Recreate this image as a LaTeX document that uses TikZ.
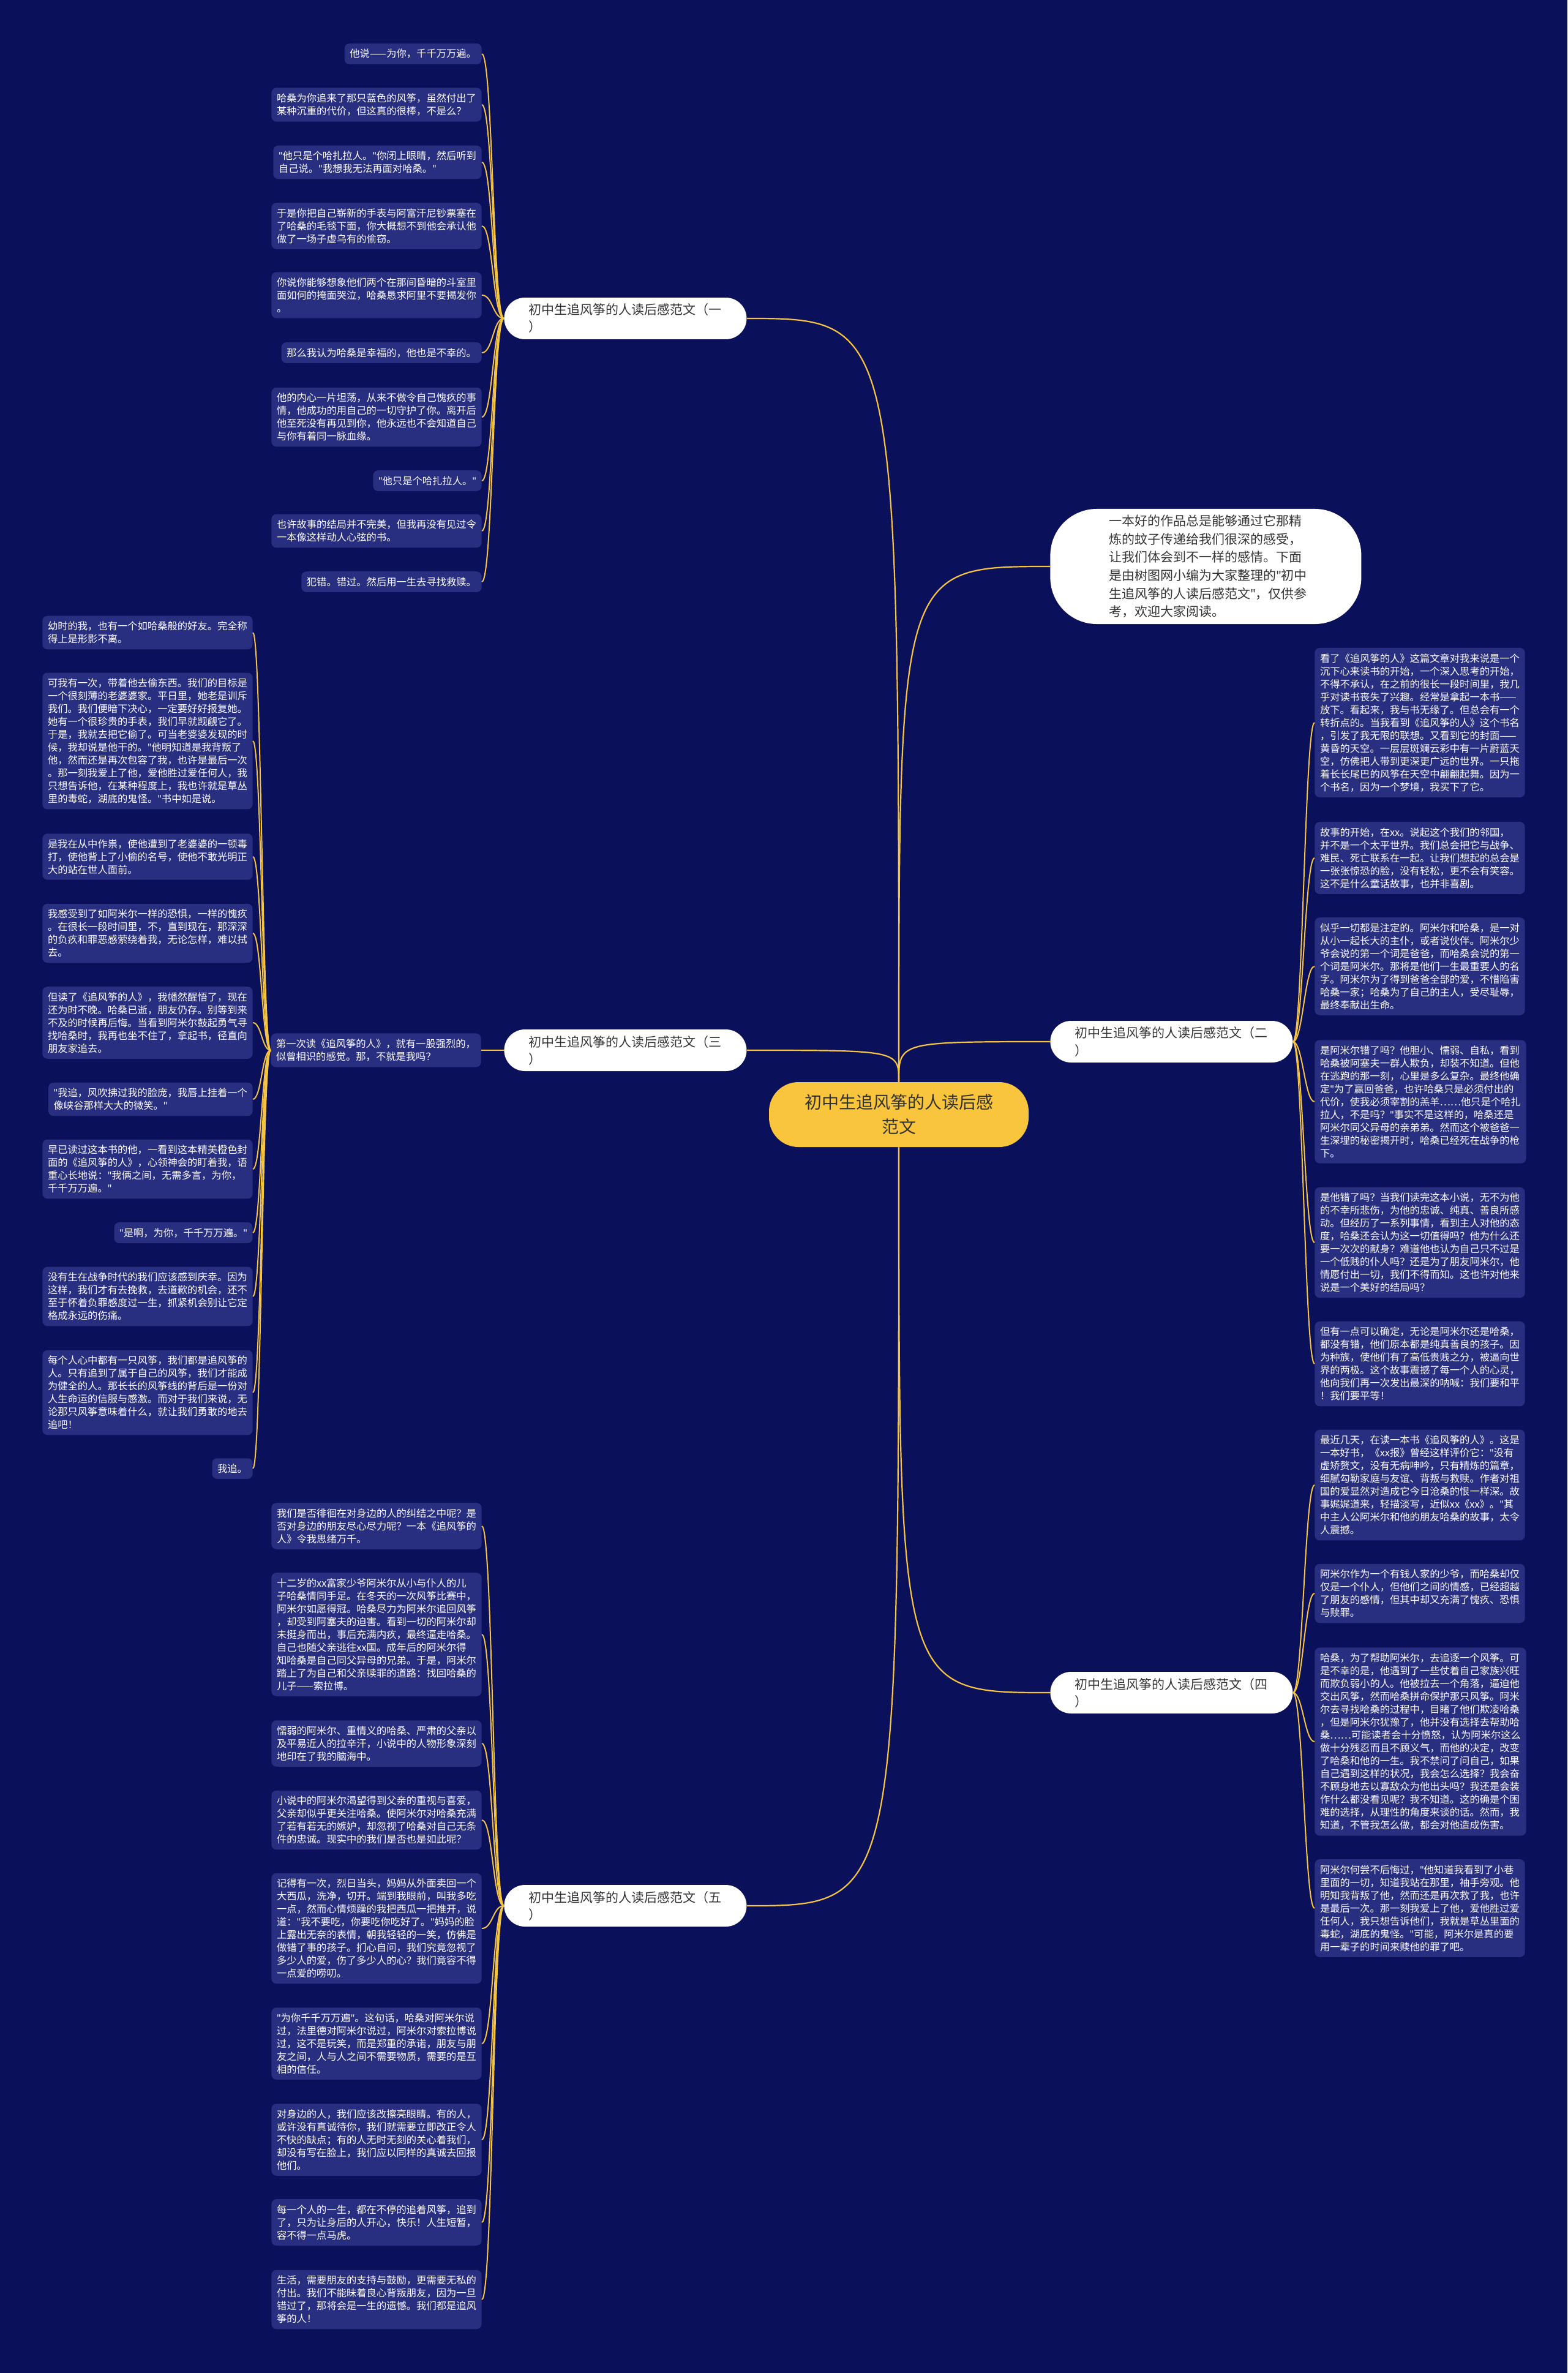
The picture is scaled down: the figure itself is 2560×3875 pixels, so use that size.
\documentclass[tikz,border=0pt]{standalone}
\usepackage{fontspec}
\setmainfont{Noto Sans CJK SC}
\newfontfamily\quotefont{Noto Sans}
\usepackage{tikz}
\definecolor{navybg}{RGB}{11,16,90}
\definecolor{leafbg}{RGB}{40,46,128}
\definecolor{kitegold}{RGB}{245,196,66}
\definecolor{rootgold}{RGB}{249,197,61}
\definecolor{inkgray}{RGB}{51,51,51}
\newcommand{\leaffont}{\fontsize{8.15}{10.5}\selectfont}
\newcommand{\branchfont}{\fontsize{10.5}{14}\selectfont}
\newcommand{\rootfont}{\fontsize{14}{20}\selectfont}
\newcommand{\qt}{{\quotefont"}}
\tikzstyle{leaf} = [rectangle, rounded corners=4pt, fill=leafbg, text=white, font=\leaffont, align=left, inner xsep=4.3pt, inner ysep=4.6pt]
\tikzstyle{branchnode} = [rectangle, rounded corners=17pt, fill=white, text=inkgray, font=\branchfont, align=left, text width=158pt, inner xsep=20pt, inner ysep=5pt]
\tikzstyle{intronode} = [rectangle, rounded corners=38pt, fill=white, text=inkgray, font=\branchfont\fontsize{10.5}{14.8}\selectfont, align=left, text width=158pt, inner xsep=48pt, inner ysep=5pt]
\tikzstyle{rootnode} = [rectangle, rounded corners=24pt, fill=rootgold, text=inkgray, font=\rootfont, align=center, minimum width=212pt, minimum height=53pt]
\tikzstyle{limb} = [draw=kitegold, line width=1.1pt]
\tikzstyle{twig} = [draw=kitegold, line width=1pt]

\begin{document}
\begin{tikzpicture}[x=0.5pt,y=-0.5pt]

        \fill[navybg] (0,0) rectangle (2560,3875);
        \useasboundingbox (0,0) rectangle (2560,3875);

        \node[rootnode] (Root) at (1468,1820) {初中生追风筝的人读后感\\范文};

        \node[intronode,anchor=west] (Intro) at (1715,925) {一本好的作品总是能够通过它那精\\炼的蚊子传递给我们很深的感受，\\让我们体会到不一样的感情。下面\\是由树图网小编为大家整理的\qt{}初中\\生追风筝的人读后感范文\qt{}，仅供参\\考，欢迎大家阅读。};

        \node[branchnode,anchor=west] (Branch1) at (823,520) {初中生追风筝的人读后感范文（一\\）};
        \node[branchnode,anchor=west] (Branch2) at (1715,1701) {初中生追风筝的人读后感范文（二\\）};
        \node[branchnode,anchor=west] (Branch3) at (823,1715) {初中生追风筝的人读后感范文（三\\）};
        \node[branchnode,anchor=west] (Branch4) at (1715,2764) {初中生追风筝的人读后感范文（四\\）};
        \node[branchnode,anchor=west] (Branch5) at (823,3112) {初中生追风筝的人读后感范文（五\\）};

        % (一)
        \node[leaf,anchor=east] (LeafA1) at (787,88) {他说——为你，千千万万遍。};
        \node[leaf,anchor=east] (LeafA2) at (787,171) {哈桑为你追来了那只蓝色的风筝，虽然付出了\\某种沉重的代价，但这真的很棒，不是么？};
        \node[leaf,anchor=east] (LeafA3) at (787,265) {\qt{}他只是个哈扎拉人。\qt{}你闭上眼睛，然后听到\\自己说。\qt{}我想我无法再面对哈桑。\qt};
        \node[leaf,anchor=east] (LeafA4) at (787,369) {于是你把自己崭新的手表与阿富汗尼钞票塞在\\了哈桑的毛毯下面，你大概想不到他会承认他\\做了一场子虚乌有的偷窃。};
        \node[leaf,anchor=east] (LeafA5) at (787,482) {你说你能够想象他们两个在那间昏暗的斗室里\\面如何的掩面哭泣，哈桑恳求阿里不要揭发你\\。};
        \node[leaf,anchor=east] (LeafA6) at (787,576) {那么我认为哈桑是幸福的，他也是不幸的。};
        \node[leaf,anchor=east] (LeafA7) at (787,681) {他的内心一片坦荡，从来不做令自己愧疚的事\\情，他成功的用自己的一切守护了你。离开后\\他至死没有再见到你，他永远也不会知道自己\\与你有着同一脉血缘。};
        \node[leaf,anchor=east] (LeafA8) at (787,785) {\qt{}他只是个哈扎拉人。\qt};
        \node[leaf,anchor=east] (LeafA9) at (787,867) {也许故事的结局并不完美，但我再没有见过令\\一本像这样动人心弦的书。};
        \node[leaf,anchor=east] (LeafA10) at (787,950) {犯错。错过。然后用一生去寻找救赎。};

        % (二)
        \node[leaf,anchor=west] (LeafD1) at (2147,1180) {看了《追风筝的人》这篇文章对我来说是一个\\沉下心来读书的开始，一个深入思考的开始，\\不得不承认，在之前的很长一段时间里，我几\\乎对读书丧失了兴趣。经常是拿起一本书——\\放下。看起来，我与书无缘了。但总会有一个\\转折点的。当我看到《追风筝的人》这个书名\\，引发了我无限的联想。又看到它的封面——\\黄昏的天空。一层层斑斓云彩中有一片蔚蓝天\\空，仿佛把人带到更深更广远的世界。一只拖\\着长长尾巴的风筝在天空中翩翩起舞。因为一\\个书名，因为一个梦境，我买下了它。};
        \node[leaf,anchor=west] (LeafD2) at (2147,1401) {故事的开始，在xx。说起这个我们的邻国，\\并不是一个太平世界。我们总会把它与战争、\\难民、死亡联系在一起。让我们想起的总会是\\一张张惊恐的脸，没有轻松，更不会有笑容。\\这不是什么童话故事，也并非喜剧。};
        \node[leaf,anchor=west] (LeafD3) at (2147,1578) {似乎一切都是注定的。阿米尔和哈桑，是一对\\从小一起长大的主仆，或者说伙伴。阿米尔少\\爷会说的第一个词是爸爸，而哈桑会说的第一\\个词是阿米尔。那将是他们一生最重要人的名\\字。阿米尔为了得到爸爸全部的爱，不惜陷害\\哈桑一家；哈桑为了自己的主人，受尽耻辱，\\最终奉献出生命。};
        \node[leaf,anchor=west] (LeafD4) at (2147,1799) {是阿米尔错了吗？他胆小、懦弱、自私，看到\\哈桑被阿塞夫一群人欺负，却装不知道。但他\\在逃跑的那一刻，心里是多么复杂。最终他确\\定\qt{}为了赢回爸爸，也许哈桑只是必须付出的\\代价，使我必须宰割的羔羊……他只是个哈扎\\拉人，不是吗？\qt{}事实不是这样的，哈桑还是\\阿米尔同父异母的亲弟弟。然而这个被爸爸一\\生深埋的秘密揭开时，哈桑已经死在战争的枪\\下。};
        \node[leaf,anchor=west] (LeafD5) at (2147,2029) {是他错了吗？当我们读完这本小说，无不为他\\的不幸所悲伤，为他的忠诚、纯真、善良所感\\动。但经历了一系列事情，看到主人对他的态\\度，哈桑还会认为这一切值得吗？他为什么还\\要一次次的献身？难道他也认为自己只不过是\\一个低贱的仆人吗？还是为了朋友阿米尔，他\\情愿付出一切，我们不得而知。这也许对他来\\说是一个美好的结局吗？};
        \node[leaf,anchor=west] (LeafD6) at (2147,2227) {但有一点可以确定，无论是阿米尔还是哈桑，\\都没有错，他们原本都是纯真善良的孩子。因\\为种族，使他们有了高低贵贱之分，被逼向世\\界的两极。这个故事震撼了每一个人的心灵，\\他向我们再一次发出最深的呐喊：我们要和平\\！我们要平等！};

        % (三)
        \node[leaf,anchor=east] (Mid) at (786,1715) {第一次读《追风筝的人》，就有一股强烈的，\\似曾相识的感觉。那，不就是我吗？};
        \node[leaf,anchor=east] (LeafC1) at (413,1033) {幼时的我，也有一个如哈桑般的好友。完全称\\得上是形影不离。};
        \node[leaf,anchor=east] (LeafC2) at (413,1210) {可我有一次，带着他去偷东西。我们的目标是\\一个很刻薄的老婆婆家。平日里，她老是训斥\\我们。我们便暗下决心，一定要好好报复她。\\她有一个很珍贵的手表，我们早就觊觎它了。\\于是，我就去把它偷了。可当老婆婆发现的时\\候，我却说是他干的。\qt{}他明知道是我背叛了\\他，然而还是再次包容了我，也许是最后一次\\。那一刻我爱上了他，爱他胜过爱任何人，我\\只想告诉他，在某种程度上，我也许就是草丛\\里的毒蛇，湖底的鬼怪。\qt{}书中如是说。};
        \node[leaf,anchor=east] (LeafC3) at (413,1399) {是我在从中作祟，使他遭到了老婆婆的一顿毒\\打，使他背上了小偷的名号，使他不敢光明正\\大的站在世人面前。};
        \node[leaf,anchor=east] (LeafC4) at (413,1524) {我感受到了如阿米尔一样的恐惧，一样的愧疚\\。在很长一段时间里，不，直到现在，那深深\\的负疚和罪恶感萦绕着我，无论怎样，难以拭\\去。};
        \node[leaf,anchor=east] (LeafC5) at (413,1670) {但读了《追风筝的人》，我幡然醒悟了，现在\\还为时不晚。哈桑已逝，朋友仍存。别等到来\\不及的时候再后悔。当看到阿米尔鼓起勇气寻\\找哈桑时，我再也坐不住了，拿起书，径直向\\朋友家追去。};
        \node[leaf,anchor=east] (LeafC6) at (413,1795) {\qt{}我追，风吹拂过我的脸庞，我唇上挂着一个\\像峡谷那样大大的微笑。\qt};
        \node[leaf,anchor=east] (LeafC7) at (413,1909) {早已读过这本书的他，一看到这本精美橙色封\\面的《追风筝的人》，心领神会的盯着我，语\\重心长地说：\qt{}我俩之间，无需多言，为你，\\千千万万遍。\qt};
        \node[leaf,anchor=east] (LeafC8) at (413,2013) {\qt{}是啊，为你，千千万万遍。\qt};
        \node[leaf,anchor=east] (LeafC9) at (413,2117) {没有生在战争时代的我们应该感到庆幸。因为\\这样，我们才有去挽救，去道歉的机会，还不\\至于怀着负罪感度过一生，抓紧机会别让它定\\格成永远的伤痛。};
        \node[leaf,anchor=east] (LeafC10) at (413,2274) {每个人心中都有一只风筝，我们都是追风筝的\\人。只有追到了属于自己的风筝，我们才能成\\为健全的人。那长长的风筝线的背后是一份对\\人生命运的信服与感激。而对于我们来说，无\\论那只风筝意味着什么，就让我们勇敢的地去\\追吧！};
        \node[leaf,anchor=east] (LeafC11) at (413,2398) {我追。};

        % (四)
        \node[leaf,anchor=west] (LeafF1) at (2147,2425) {最近几天，在读一本书《追风筝的人》。这是\\一本好书，《xx报》曾经这样评价它：\qt{}没有\\虚矫赘文，没有无病呻吟，只有精炼的篇章，\\细腻勾勒家庭与友谊、背叛与救赎。作者对祖\\国的爱显然对造成它今日沧桑的恨一样深。故\\事娓娓道来，轻描淡写，近似xx《xx》。\qt{}其\\中主人公阿米尔和他的朋友哈桑的故事，太令\\人震撼。};
        \node[leaf,anchor=west] (LeafF2) at (2147,2602) {阿米尔作为一个有钱人家的少爷，而哈桑却仅\\仅是一个仆人，但他们之间的情感，已经超越\\了朋友的感情，但其中却又充满了愧疚、恐惧\\与赎罪。};
        \node[leaf,anchor=west] (LeafF3) at (2147,2844) {哈桑，为了帮助阿米尔，去追逐一个风筝。可\\是不幸的是，他遇到了一些仗着自己家族兴旺\\而欺负弱小的人。他被拉去一个角落，逼迫他\\交出风筝，然而哈桑拼命保护那只风筝。阿米\\尔去寻找哈桑的过程中，目睹了他们欺凌哈桑\\，但是阿米尔犹豫了，他并没有选择去帮助哈\\桑……可能读者会十分愤怒，认为阿米尔这么\\做十分残忍而且不顾义气，而他的决定，改变\\了哈桑和他的一生。我不禁问了问自己，如果\\自己遇到这样的状况，我会怎么选择？我会奋\\不顾身地去以寡敌众为他出头吗？我还是会装\\作什么都没看见呢？我不知道。这的确是个困\\难的选择，从理性的角度来谈的话。然而，我\\知道，不管我怎么做，都会对他造成伤害。};
        \node[leaf,anchor=west] (LeafF4) at (2147,3116) {阿米尔何尝不后悔过，\qt{}他知道我看到了小巷\\里面的一切，知道我站在那里，袖手旁观。他\\明知我背叛了他，然而还是再次救了我，也许\\是最后一次。那一刻我爱上了他，爱他胜过爱\\任何人，我只想告诉他们，我就是草丛里面的\\毒蛇，湖底的鬼怪。\qt{}可能，阿米尔是真的要\\用一辈子的时间来赎他的罪了吧。};

        % (五)
        \node[leaf,anchor=east] (LeafE1) at (787,2492) {我们是否徘徊在对身边的人的纠结之中呢？是\\否对身边的朋友尽心尽力呢？一本《追风筝的\\人》令我思绪万千。};
        \node[leaf,anchor=east] (LeafE2) at (787,2669) {十二岁的xx富家少爷阿米尔从小与仆人的儿\\子哈桑情同手足。在冬天的一次风筝比赛中，\\阿米尔如愿得冠。哈桑尽力为阿米尔追回风筝\\，却受到阿塞夫的迫害。看到一切的阿米尔却\\未挺身而出，事后充满内疚，最终逼走哈桑。\\自己也随父亲逃往xx国。成年后的阿米尔得\\知哈桑是自己同父异母的兄弟。于是，阿米尔\\踏上了为自己和父亲赎罪的道路：找回哈桑的\\儿子——索拉博。};
        \node[leaf,anchor=east] (LeafE3) at (787,2847) {懦弱的阿米尔、重情义的哈桑、严肃的父亲以\\及平易近人的拉辛汗，小说中的人物形象深刻\\地印在了我的脑海中。};
        \node[leaf,anchor=east] (LeafE4) at (787,2972) {小说中的阿米尔渴望得到父亲的重视与喜爱，\\父亲却似乎更关注哈桑。使阿米尔对哈桑充满\\了若有若无的嫉妒，却忽视了哈桑对自己无条\\件的忠诚。现实中的我们是否也是如此呢？};
        \node[leaf,anchor=east] (LeafE5) at (787,3149) {记得有一次，烈日当头，妈妈从外面卖回一个\\大西瓜，洗净，切开。端到我眼前，叫我多吃\\一点，然而心情烦躁的我把西瓜一把推开，说\\道：\qt{}我不要吃，你要吃你吃好了。\qt{}妈妈的脸\\上露出无奈的表情，朝我轻轻的一笑，仿佛是\\做错了事的孩子。扪心自问，我们究竟忽视了\\多少人的爱，伤了多少人的心？我们竟容不得\\一点爱的唠叨。};
        \node[leaf,anchor=east] (LeafE6) at (787,3337) {\qt{}为你千千万万遍\qt{}。这句话，哈桑对阿米尔说\\过，法里德对阿米尔说过，阿米尔对索拉博说\\过，这不是玩笑，而是郑重的承诺，朋友与朋\\友之间，人与人之间不需要物质，需要的是互\\相的信任。};
        \node[leaf,anchor=east] (LeafE7) at (787,3494) {对身边的人，我们应该改擦亮眼睛。有的人，\\或许没有真诚待你，我们就需要立即改正令人\\不快的缺点；有的人无时无刻的关心着我们，\\却没有写在脸上，我们应以同样的真诚去回报\\他们。};
        \node[leaf,anchor=east] (LeafE8) at (787,3629) {每一个人的一生，都在不停的追着风筝，追到\\了，只为让身后的人开心，快乐！人生短暂，\\容不得一点马虎。};
        \node[leaf,anchor=east] (LeafE9) at (787,3755) {生活，需要朋友的支持与鼓励，更需要无私的\\付出。我们不能昧着良心背叛朋友，因为一旦\\错过了，那将会是一生的遗憾。我们都是追风\\筝的人！};

        % root to branches
        \draw[limb] (Root.north) .. controls (Root.north |- Branch1.east) .. (Branch1.east);
        \draw[limb] (Root.north) .. controls (Root.north |- Intro.west) .. (Intro.west);
        \draw[limb] (Root.north) .. controls (Root.north |- Branch2.west) .. (Branch2.west);
        \draw[limb] (Root.north) .. controls (Root.north |- Branch3.east) .. (Branch3.east);
        \draw[limb] (Root.south) .. controls (Root.south |- Branch4.west) .. (Branch4.west);
        \draw[limb] (Root.south) .. controls (Root.south |- Branch5.east) .. (Branch5.east);

        % branches to leaves
        \foreach \x in {1,...,10}
        \draw[twig] (Branch1.west) .. controls +(-18,0) and +(18,0) .. (LeafA\x.east);
        \foreach \x in {1,...,6}
        \draw[twig] (Branch2.east) .. controls +(16,0) and +(-16,0) .. (LeafD\x.west);
        \draw[twig] (Branch3.west) -- (Mid.east);
        \foreach \x in {1,...,11}
        \draw[twig] (Mid.west) .. controls +(-14,0) and +(14,0) .. (LeafC\x.east);
        \foreach \x in {1,...,4}
        \draw[twig] (Branch4.east) .. controls +(16,0) and +(-16,0) .. (LeafF\x.west);
        \foreach \x in {1,...,9}
        \draw[twig] (Branch5.west) .. controls +(-18,0) and +(18,0) .. (LeafE\x.east);

\end{tikzpicture}
\end{document}
